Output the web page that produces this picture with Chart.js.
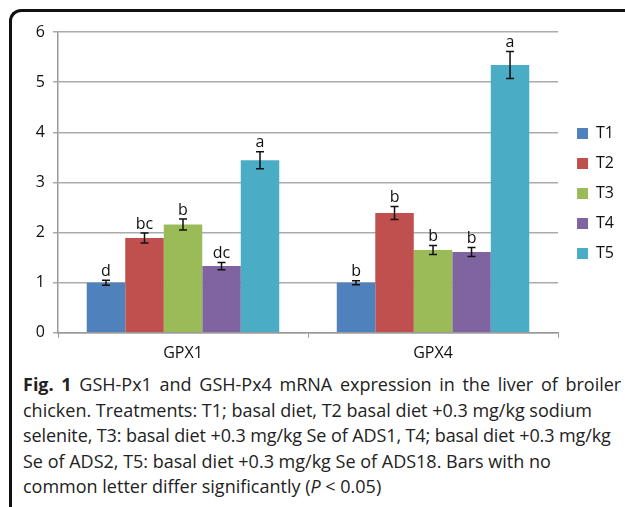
<!DOCTYPE html>
<html>
<head>
<meta charset="utf-8">
<script src="https://cdn.jsdelivr.net/npm/chart.js@4.4.1/dist/chart.umd.min.js"></script>
<style>
  html, body { margin: 0; padding: 0; background: #fff; }
  #wrap { position: relative; width: 625px; height: 507px; overflow: hidden; }
  #frame {
    position: absolute; left: 9px; top: 9px; width: 700px; height: 520px;
    border-left: 3px solid #111; border-top: 3px solid #111;
    border-top-left-radius: 12px;
  }
  #chartBox { position: absolute; left: 0; top: 0; width: 625px; height: 372px; }
  #caption {
    position: absolute; left: 23px; top: 372px; width: 610px;
    font-family: "Open Sans", sans-serif; font-size: 18px; line-height: 25.5px;
    color: #222; white-space: nowrap;
  }
  #caption span { display: block; }
</style>
</head>
<body>
<div id="wrap">
  <div id="frame"></div>
  <div id="chartBox"><canvas id="gpxChart"></canvas></div>
  <div id="caption">
    <span style="word-spacing: 3px"><b>Fig. 1</b> GSH-Px1 and GSH-Px4 mRNA expression in the liver of broiler</span>
    <span>chicken. Treatments: T1; basal diet, T2 basal diet +0.3 mg/kg sodium</span>
    <span style="letter-spacing: -0.1px">selenite, T3: basal diet +0.3 mg/kg Se of ADS1, T4; basal diet +0.3 mg/kg</span>
    <span>Se of ADS2, T5: basal diet +0.3 mg/kg Se of ADS18. Bars with no</span>
    <span>common letter differ significantly (<i>P</i> &lt; 0.05)</span>
  </div>
</div>
<script>
// data
const genes = ['GPX1', 'GPX4'];
const treatments = ['T1', 'T2', 'T3', 'T4', 'T5'];
const colors = ['#4F81BD', '#C0504D', '#9BBB59', '#8064A2', '#4BACC6'];

const t1 = [1.00, 1.00];
const t2 = [1.89, 2.39];
const t3 = [2.16, 1.65];
const t4 = [1.33, 1.61];
const t5 = [3.44, 5.34];

const t1Err = [0.05, 0.04];
const t2Err = [0.10, 0.13];
const t3Err = [0.11, 0.09];
const t4Err = [0.07, 0.09];
const t5Err = [0.17, 0.27];

const t1Letters = ['d', 'b'];
const t2Letters = ['bc', 'b'];
const t3Letters = ['b', 'b'];
const t4Letters = ['dc', 'b'];
const t5Letters = ['a', 'a'];

const yTicks = [0, 1, 2, 3, 4, 5, 6];

const values = [t1, t2, t3, t4, t5];
const errors = [t1Err, t2Err, t3Err, t4Err, t5Err];
const letters = [t1Letters, t2Letters, t3Letters, t4Letters, t5Letters];

const FONT = '"Open Sans", sans-serif';

// error bars + significance letters
const errorBarPlugin = {
    id: 'errorBars',
    afterDatasetsDraw(chart) {
        const ctx = chart.ctx;
        const y = chart.scales.y;
        ctx.save();
        chart.data.datasets.forEach((ds, i) => {
            const meta = chart.getDatasetMeta(i);
            meta.data.forEach((bar, j) => {
                const v = ds.data[j];
                const e = errors[i][j];
                const top = y.getPixelForValue(v + e);
                const bot = y.getPixelForValue(v - e);
                const x = bar.x;
                ctx.strokeStyle = '#111';
                ctx.lineWidth = 1.5;
                ctx.beginPath();
                ctx.moveTo(x, top); ctx.lineTo(x, bot);
                ctx.moveTo(x - 4, top); ctx.lineTo(x + 4, top);
                ctx.moveTo(x - 4, bot); ctx.lineTo(x + 4, bot);
                ctx.stroke();
                ctx.fillStyle = '#111';
                ctx.font = '16px ' + FONT;
                ctx.textAlign = 'center';
                ctx.textBaseline = 'bottom';
                ctx.fillText(letters[i][j], x, top - 1);
            });
        });
        ctx.restore();
    }
};

// nudge the legend column up and right a little, as in the figure
const legendShift = {
    id: 'legendShift',
    afterLayout(chart) {
        chart.legend.top -= 7;
        chart.legend.bottom -= 7;
        chart.legend.left += 5;
        chart.legend.right += 5;
    }
};

new Chart(document.getElementById('gpxChart'), {
    type: 'bar',
    data: {
        labels: genes,
        datasets: treatments.map((t, i) => ({
            label: t,
            data: values[i],
            backgroundColor: colors[i],
            borderWidth: 0,
            categoryPercentage: 0.77,
            barPercentage: 1.0
        }))
    },
    options: {
        responsive: true,
        maintainAspectRatio: false,
        animation: false,
        layout: { padding: { left: 12, top: 32, right: 6, bottom: 3 } },
        plugins: {
            legend: {
                position: 'right',
                align: 'center',
                labels: {
                    boxWidth: 11,
                    boxHeight: 11,
                    padding: 14,
                    color: '#111',
                    font: { family: FONT, size: 16 }
                }
            },
            tooltip: { enabled: false }
        },
        scales: {
            y: {
                min: 0,
                max: 6,
                afterBuildTicks(scale) { scale.ticks = yTicks.map(v => ({ value: v })); },
                afterFit(scale) { scale.width = 46; },
                grid: { color: '#ababab', lineWidth: 1.5, tickLength: 5 },
                border: { color: '#999', width: 1.5 },
                ticks: { color: '#111', padding: 8, font: { family: FONT, size: 16 } }
            },
            x: {
                grid: { drawOnChartArea: false, drawTicks: true, tickLength: 5, color: '#999', offset: true },
                border: { color: '#999', width: 1.5 },
                ticks: { color: '#111', padding: 6, font: { family: FONT, size: 16 } }
            }
        }
    },
    plugins: [errorBarPlugin, legendShift]
});
</script>
</body>
</html>
